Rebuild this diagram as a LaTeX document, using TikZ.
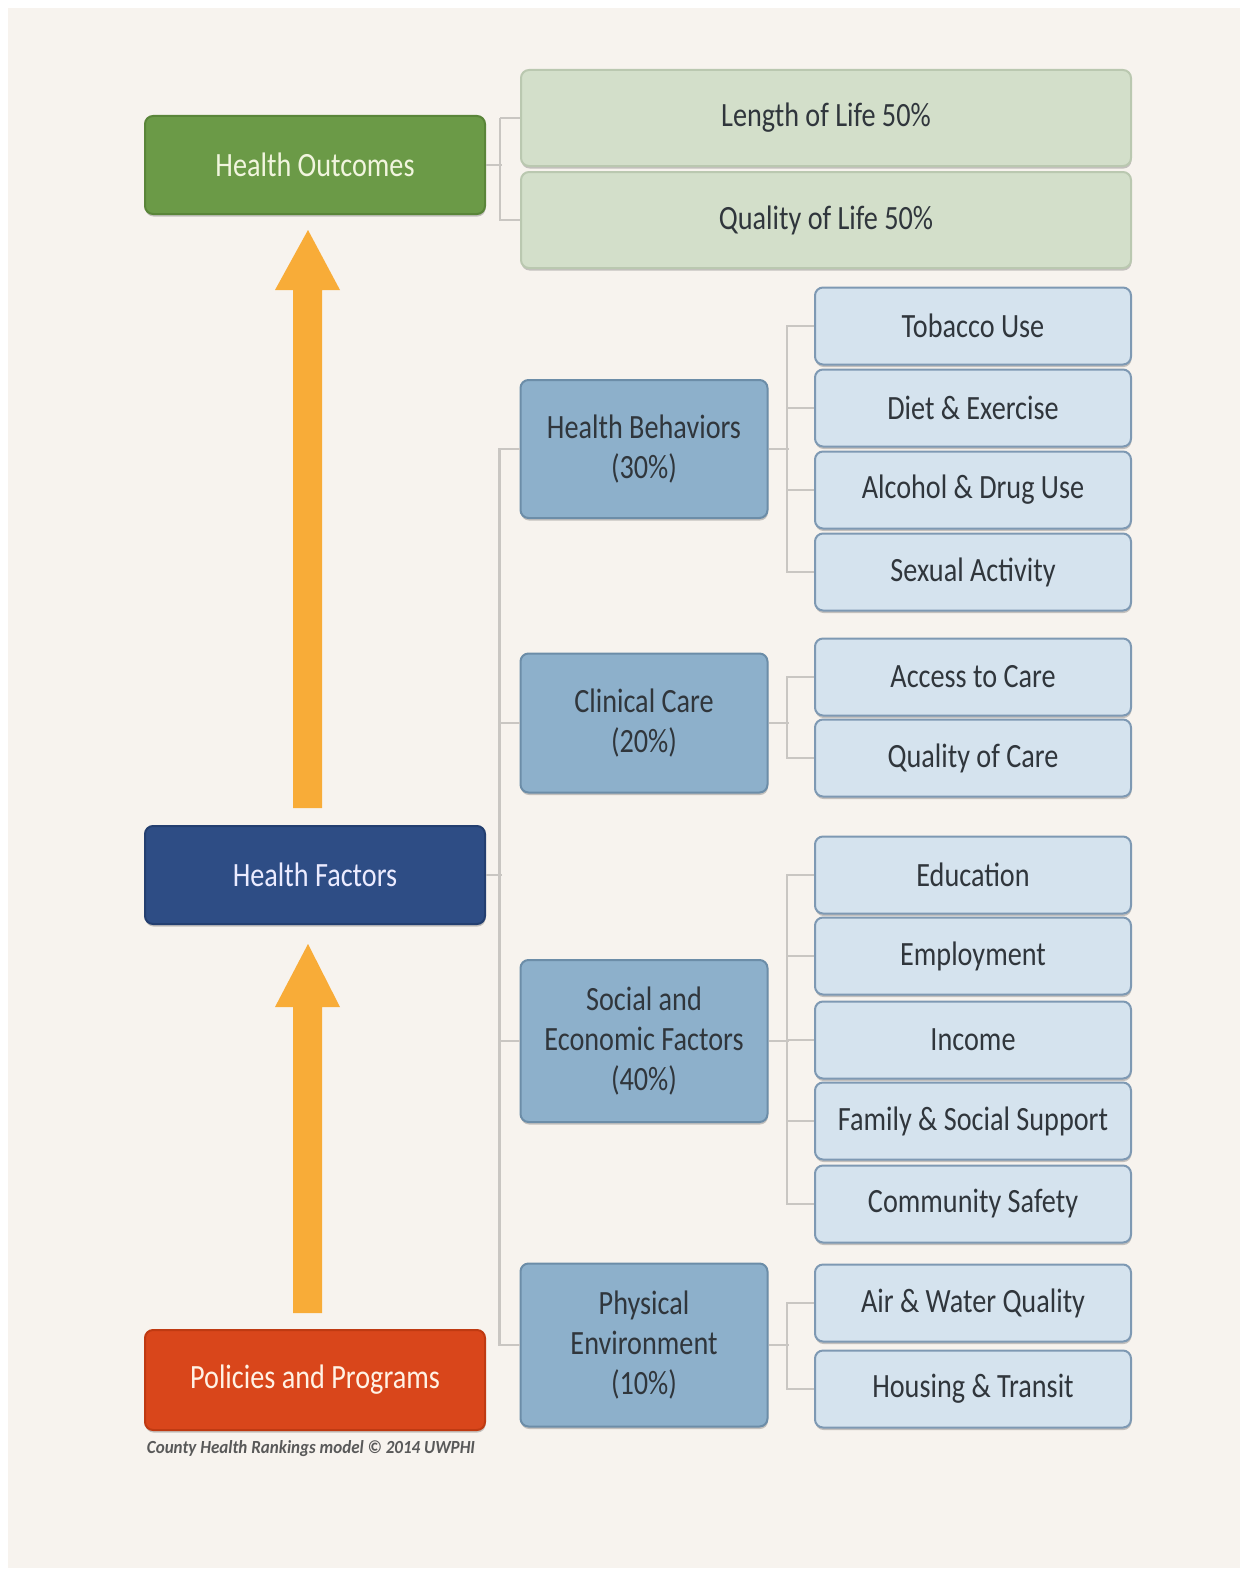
\documentclass[tikz,border=0pt]{standalone}
\usepackage{fontspec}
\setmainfont[FakeStretch=0.83]{Carlito}
\newfontfamily\capfont[FakeStretch=0.92]{Carlito}
\usetikzlibrary{calc,shadows}
\definecolor{bgc}{HTML}{F7F3EE}
\definecolor{hogreen}{HTML}{6B9A47}
\definecolor{hogreenb}{HTML}{5A8539}
\definecolor{hotext}{HTML}{F1F5DE}
\definecolor{lgreen}{HTML}{D3DFCA}
\definecolor{lgreenb}{HTML}{BAC8B0}
\definecolor{dblue}{HTML}{2E4D85}
\definecolor{dblueb}{HTML}{243F70}
\definecolor{ored}{HTML}{D9461B}
\definecolor{oredb}{HTML}{BF3A12}
\definecolor{catblue}{HTML}{8DB0CB}
\definecolor{catblueb}{HTML}{6C8DA8}
\definecolor{subblue}{HTML}{D5E3EE}
\definecolor{subblueb}{HTML}{7E99B3}
\definecolor{conn}{HTML}{C9C6C2}
\definecolor{arrowc}{HTML}{F8AC38}
\definecolor{txt}{HTML}{30363C}
\tikzset{
  base/.style={rounded corners=8pt, line width=2pt, inner sep=0pt, align=center,
    font=\fontsize{34}{40}\selectfont,
    drop shadow={shadow xshift=0.5pt, shadow yshift=-2.5pt, opacity=0.3, fill=black!70}},
  mainbox/.style={base, minimum width=340pt, minimum height=98pt},
  outbox/.style={base, fill=lgreen, draw=lgreenb, text=txt, minimum width=610pt, minimum height=96pt},
  catbox/.style={base, fill=catblue, draw=catblueb, text=txt, minimum width=247pt},
  subbox/.style={base, fill=subblue, draw=subblueb, text=txt, minimum width=316pt, minimum height=77pt},
  link/.style={draw=conn, line width=2.2pt},
  bigarrow/.style={fill=arrowc, draw=none}
}
\begin{document}
\begin{tikzpicture}[x=1pt,y=-1pt]
\useasboundingbox (0,0) rectangle (1248,1576);
\fill[white] (0,0) rectangle (1248,1576);
\fill[bgc] (8,8) rectangle (1240,1568);

% main column
\node[mainbox, fill=hogreen, draw=hogreenb, text=hotext] (HO) at (315,165) {Health Outcomes};
\node[mainbox, fill=dblue, draw=dblueb, text=white!92!blue] (HF) at (315,875) {Health Factors};
\node[mainbox, fill=ored, draw=oredb, text=white!90!orange, minimum height=100pt] (PP) at (315,1380) {Policies and Programs};
\node[font=\capfont\fontsize{18.5}{20}\selectfont\bfseries\itshape, text=black!65, inner sep=0pt] (cap) at (311,1449) {County Health Rankings model \textcopyright\ 2014 UWPHI};

% arrows
\fill[bigarrow] (293,808) -- (293,290) -- (275,290) -- (308,230) -- (340,290) -- (322,290) -- (322,808) -- cycle;
\fill[bigarrow] (293,1313) -- (293,1007) -- (275,1007) -- (308,944) -- (340,1007) -- (322,1007) -- (322,1313) -- cycle;

% outcomes
\node[outbox] (LoL) at (826,118) {Length of Life 50\%};
\node[outbox] (QoL) at (826,220) {Quality of Life 50\%};

% categories
\node[catbox, minimum height=138pt] (HB) at (644,449) {Health Behaviors\\(30\%)};
\node[catbox, minimum height=139pt] (CC) at (644,723) {Clinical Care\\(20\%)};
\node[catbox, minimum height=162pt] (SE) at (644,1041) {Social and\\Economic Factors\\(40\%)};
\node[catbox, minimum height=163pt] (PE) at (644,1345) {Physical\\Environment\\(10\%)};

% sub items
\node[subbox] (s1) at (973,326) {Tobacco Use};
\node[subbox] (s2) at (973,408) {Diet \& Exercise};
\node[subbox] (s3) at (973,490) {Alcohol \& Drug Use};
\node[subbox] (s4) at (973,572) {Sexual Activity};
\node[subbox] (s5) at (973,677) {Access to Care};
\node[subbox] (s6) at (973,758) {Quality of Care};
\node[subbox] (s7) at (973,875) {Education};
\node[subbox] (s8) at (973,956) {Employment};
\node[subbox] (s9) at (973,1040) {Income};
\node[subbox] (s10) at (973,1121) {Family \& Social Support};
\node[subbox] (s11) at (973,1204) {Community Safety};
\node[subbox] (s12) at (973,1303) {Air \& Water Quality};
\node[subbox] (s13) at (973,1389) {Housing \& Transit};

% connectors: outcomes
\draw[link] (HO.east) -- ++(16,0);
\draw[link] ($(LoL.west)+(-20,0)$) -- (LoL.west);
\draw[link] ($(LoL.west)+(-20,0)$) -- ($(QoL.west)+(-20,0)$) -- (QoL.west);

% health factors trunk
\draw[link] (HF.east) -- ++(16,0);
\draw[link] (HB.west) -- ++(-20,0) -- ($(PE.west)+(-20,0)$) -- (PE.west);
\draw[link] (CC.west) -- ++(-20,0);
\draw[link] (SE.west) -- ++(-20,0);

% behaviors
\draw[link] (HB.east) -- ++(20,0);
\draw[link] (s1.west) -- ++(-27,0) -- ($(s4.west)+(-27,0)$) -- (s4.west);
\draw[link] (s2.west) -- ++(-27,0);
\draw[link] (s3.west) -- ++(-27,0);
% clinical
\draw[link] (CC.east) -- ++(20,0);
\draw[link] (s5.west) -- ++(-27,0) -- ($(s6.west)+(-27,0)$) -- (s6.west);
% social
\draw[link] (SE.east) -- ++(20,0);
\draw[link] (s7.west) -- ++(-27,0) -- ($(s11.west)+(-27,0)$) -- (s11.west);
\draw[link] (s8.west) -- ++(-27,0);
\draw[link] (s9.west) -- ++(-27,0);
\draw[link] (s10.west) -- ++(-27,0);
% physical
\draw[link] (PE.east) -- ++(20,0);
\draw[link] (s12.west) -- ++(-27,0) -- ($(s13.west)+(-27,0)$) -- (s13.west);
\end{tikzpicture}
\end{document}
